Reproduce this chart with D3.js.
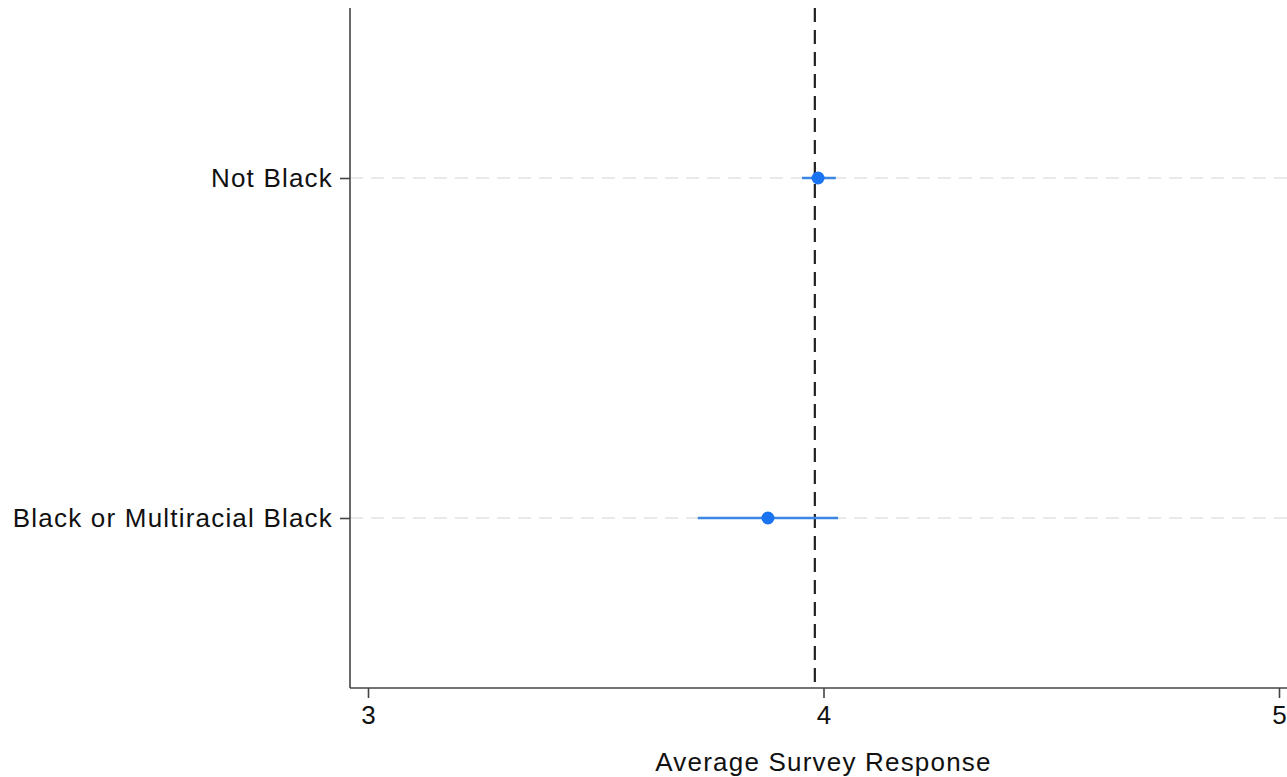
<!DOCTYPE html>
<html><head><meta charset="utf-8">
<script src="https://cdn.jsdelivr.net/npm/d3@7"></script>
<style>body{margin:0;background:#fff}svg{display:block}</style>
</head><body>
<svg id="c" width="1287" height="777"></svg>
<script>
const categories = ["Not Black", "Black or Multiracial Black"];
const estimates = [3.988, 3.878];
const ciLow = [3.953, 3.724];
const ciHigh = [4.027, 4.032];
const refValue = 3.981;
const xTicks = [3, 4, 5];
const xTitle = "Average Survey Response";

const svg = d3.select("#c");
const font = "'Liberation Sans', Arial, Helvetica, sans-serif";
const fs = 26, ls = "1.2px";
const x = d3.scaleLinear().domain([3, 5]).range([368, 1279]);
const y = d3.scaleLinear().domain([0.5, 2.5]).range([8, 688]);
const axisLeft = 350, axisBottom = 688;

// gridlines
svg.selectAll("line.grid").data(categories).join("line")
  .attr("x1", axisLeft).attr("x2", 1287)
  .attr("y1", (d,i)=>y(i+1)).attr("y2", (d,i)=>y(i+1))
  .attr("stroke", "#e2e2e2").attr("stroke-width", 1.5).attr("stroke-dasharray", "13,8");

// reference line
svg.append("line").attr("x1", x(refValue)).attr("x2", x(refValue))
  .attr("y1", 8).attr("y2", axisBottom)
  .attr("stroke", "#222").attr("stroke-width", 2.2).attr("stroke-dasharray", "14,8");

// y axis
const yAxis = d3.axisLeft(y).tickValues([1,2]).tickFormat(d=>categories[d-1]).tickSize(10).tickPadding(7);
const gy = svg.append("g").attr("transform", `translate(${axisLeft},0)`).call(yAxis);
gy.select(".domain").attr("d", `M0,8V${axisBottom}`).attr("stroke", "#444").attr("stroke-width", 1.6);
gy.selectAll(".tick line").attr("stroke", "#444").attr("stroke-width", 1.6);
gy.selectAll(".tick text").attr("font-family", font).attr("font-size", fs).attr("letter-spacing", ls).attr("fill", "#111");

// x axis
const xAxis = d3.axisBottom(x).tickValues(xTicks).tickFormat(d3.format("d")).tickSize(10).tickPadding(8);
const gx = svg.append("g").attr("transform", `translate(0,${axisBottom})`).call(xAxis);
gx.select(".domain").attr("d", `M${axisLeft},0H1287`).attr("stroke", "#444").attr("stroke-width", 1.6);
gx.selectAll(".tick line").attr("stroke", "#444").attr("stroke-width", 1.6);
gx.selectAll(".tick text").attr("font-family", font).attr("font-size", fs).attr("fill", "#111");

svg.append("text").attr("x", x(4)).attr("y", 771).attr("text-anchor", "middle")
  .attr("font-family", font).attr("font-size", fs).attr("letter-spacing", ls).attr("fill", "#111").text(xTitle);

// CI lines
svg.selectAll("line.ci").data(categories).join("line")
  .attr("x1", (d,i)=>x(ciLow[i])).attr("x2", (d,i)=>x(ciHigh[i]))
  .attr("y1", (d,i)=>y(i+1)).attr("y2", (d,i)=>y(i+1))
  .attr("stroke", "#3b86e3").attr("stroke-width", 2.6);

// points
svg.selectAll("circle.pt").data(categories).join("circle")
  .attr("cx", (d,i)=>x(estimates[i])).attr("cy", (d,i)=>y(i+1)).attr("r", 6.5)
  .attr("fill", "#1a73f0");
</script>
</body></html>
